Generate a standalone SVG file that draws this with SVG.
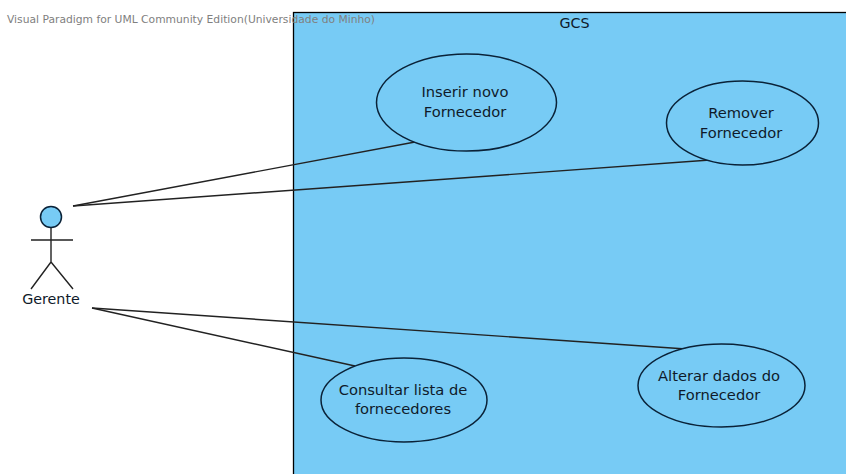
<svg xmlns="http://www.w3.org/2000/svg" width="846" height="474" viewBox="0 0 846 474">
<style>
.u{fill:#77cbf5;stroke:#0a2238;stroke-width:1.5}
.l{fill:none;stroke:#222;stroke-width:1.4}
text{font-family:"DejaVu Sans",Verdana,sans-serif;font-size:14.700px;text-anchor:middle;fill:#0f1a2a}
</style>
<rect width="846" height="474" fill="#fff"/>
<g id="system"><rect x="293.500" y="12.500" width="560" height="470" fill="#77cbf5" stroke="#000" stroke-width="1.300"/><text x="574.500" y="28" style="font-size:14.300px">GCS</text></g>
<text x="7" y="23" textLength="368" lengthAdjust="spacingAndGlyphs" style="font-size:10px;fill:#808080;text-anchor:start">Visual Paradigm for UML Community Edition(Universidade do Minho)</text>
<g id="connectors">
<line class="l" x1="73" y1="206" x2="415" y2="142"/>
<line class="l" x1="73" y1="206" x2="710" y2="160"/>
<line class="l" x1="92" y1="308" x2="355" y2="366"/>
<line class="l" x1="92" y1="308" x2="686" y2="349"/>
</g>
<g id="actor"><circle cx="51" cy="217" r="10.500" class="u"/><path class="l" d="M51 228V262M31 240H73M51 262L31 289M51 262L73 289"/><text x="51" y="304" style="font-size:14.300px">Gerente</text></g>
<g id="uc1"><ellipse cx="466.500" cy="102.500" rx="90" ry="48.500" class="u"/><text x="465" y="97">Inserir novo</text><text x="465" y="117">Fornecedor</text></g>
<g id="uc2"><ellipse cx="742.500" cy="123" rx="76" ry="42" class="u"/><text x="741" y="118">Remover</text><text x="741" y="138">Fornecedor</text></g>
<g id="uc3"><ellipse cx="404" cy="400" rx="83" ry="42" class="u"/><text x="403" y="395">Consultar lista de</text><text x="403" y="414">fornecedores</text></g>
<g id="uc4"><ellipse cx="721.500" cy="385.500" rx="83.500" ry="41.500" class="u"/><text x="719" y="381">Alterar dados do</text><text x="719" y="400">Fornecedor</text></g>
</svg>
